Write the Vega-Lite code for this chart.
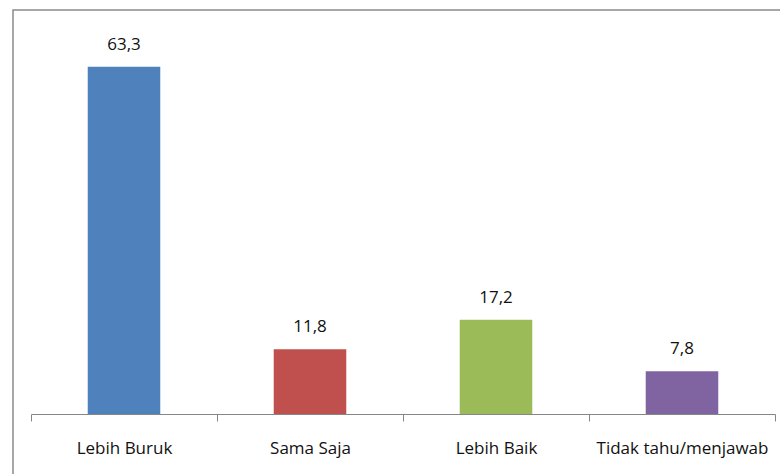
{
  "$schema": "https://vega.github.io/schema/vega-lite/v6.json",
  "autosize": "none",
  "padding": {"left": 13, "top": 10, "right": 0, "bottom": 0},
  "width": 790,
  "height": 500,
  "background": "white",
  "config": {"view": {"stroke": "#8a8a8a", "strokeWidth": 1.5}},
  "data": {"values": [
    {"kategori": "Lebih Buruk", "nilai": 63.3, "label": "63,3", "warna": "#4F81BD"},
    {"kategori": "Sama Saja", "nilai": 11.8, "label": "11,8", "warna": "#C0504D"},
    {"kategori": "Lebih Baik", "nilai": 17.2, "label": "17,2", "warna": "#9BBB59"},
    {"kategori": "Tidak tahu/menjawab", "nilai": 7.8, "label": "7,8", "warna": "#8064A2"}
  ]},
  "encoding": {
    "x": {"field": "kategori", "type": "nominal", "sort": null,
      "scale": {"range": [18, 762], "paddingInner": 0, "paddingOuter": 0},
      "axis": {"title": null, "labelAngle": 0, "domainColor": "#868686", "tickColor": "#868686", "tickBand": "extent", "tickSize": 7, "offset": -96,
        "labelFont": "Open Sans", "labelFontSize": 17, "labelColor": "#111111", "labelPadding": 19}},
    "y": {"field": "nilai", "type": "quantitative",
      "scale": {"domain": [0, 70], "range": [404, 20], "nice": false},
      "axis": null}
  },
  "layer": [
    {"mark": {"type": "bar", "width": {"band": 0.39}},
     "encoding": {"color": {"field": "warna", "type": "nominal", "scale": null}}},
    {"mark": {"type": "text", "dy": -22, "font": "Open Sans", "fontSize": 17, "color": "#111111"},
     "encoding": {"text": {"field": "label"}}}
  ]
}
